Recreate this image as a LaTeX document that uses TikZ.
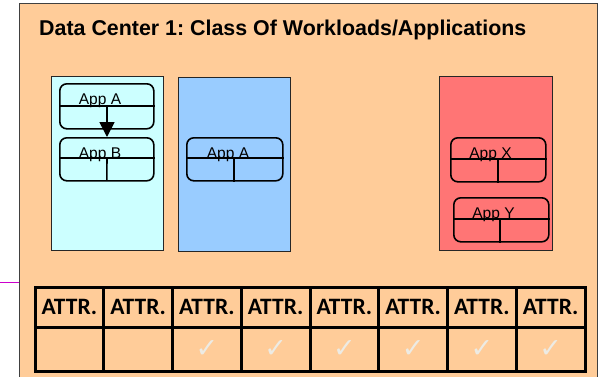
\documentclass[tikz,border=0pt]{standalone}
\usepackage{fontspec}
\setmainfont{Liberation Sans}
\newfontfamily\attrfont{Carlito}
\newfontfamily\symfont{DejaVu Sans}
\usetikzlibrary{arrows.meta}
\definecolor{peach}{HTML}{FFCC99}
\definecolor{cyanbox}{HTML}{CCFFFF}
\definecolor{bluebox}{HTML}{99CCFF}
\definecolor{redbox}{HTML}{FF7575}
\definecolor{framegray}{HTML}{404040}
\definecolor{tickgray}{HTML}{EDEBE4}
\definecolor{magentaline}{HTML}{CC00CC}
\frenchspacing
\tikzset{
  hostbox/.style={draw=black!85, line width=1.4pt},
  appbox/.style={draw=black, line width=1.6pt, rounded corners=7pt, minimum width=94pt, minimum height=44pt, inner sep=0pt},
  divider/.style={draw=black, line width=1.6pt},
  applabel/.style={font=\fontsize{15.5}{16}\selectfont, inner sep=0pt, anchor=base},
  cell/.style={draw=black, line width=3pt, minimum width=68.75pt, inner sep=0pt},
  hcell/.style={cell, minimum height=40pt, font=\attrfont\bfseries\fontsize{23.5}{25}\selectfont},
  tcell/.style={cell, minimum height=44pt, font=\symfont\fontsize{27}{28}\selectfont, text=tickgray},
}
\begin{document}
\begin{tikzpicture}[x=1pt, y=-1pt]
\useasboundingbox (0,0) rectangle (602,376);
\clip (0,0) rectangle (602,376);
\fill[white] (0,0) rectangle (602,376);
% outer frame
\node[draw=framegray, line width=1.3pt, fill=peach, minimum width=578pt, minimum height=390pt, inner sep=0pt, anchor=north west] (frame) at (19,3) {};
\coordinate (mstart) at (0,282);
\draw[magentaline, line width=1pt] (mstart) -- (mstart -| frame.west);
% title
\node[anchor=base west, inner sep=0pt, font=\bfseries\fontsize{21.4}{24}\selectfont] (title) at (39,35) {Data Center 1: Class Of Workloads/Applications};
% host boxes
\node[hostbox, fill=cyanbox, minimum width=112pt, minimum height=174pt, anchor=north west, inner sep=0pt] (host1) at (51,76) {};
\node[hostbox, fill=bluebox, minimum width=112pt, minimum height=174pt, anchor=north west, inner sep=0pt] (host2) at (178,77) {};
\node[hostbox, fill=redbox, minimum width=113pt, minimum height=174pt, anchor=north west, inner sep=0pt] (host3) at (439,76) {};
% app boxes
\node[appbox, minimum height=45pt, anchor=north west] (a1) at (59,83) {};
\node[appbox, minimum height=43pt, anchor=north west] (b1) at (59,137) {};
\node[appbox, minimum width=96pt, minimum height=43pt, anchor=north west] (a2) at (186,137) {};
\node[appbox, minimum width=95pt, minimum height=44pt, anchor=north west] (x3) at (450,137) {};
\node[appbox, minimum width=95pt, minimum height=44pt, anchor=north west] (y3) at (453,197) {};
% dividers
\draw[divider] (a1.west |- 0,106) -- (a1.east |- 0,106);
\coordinate (a1div) at (107,106);
\draw[divider] (b1.west |- 0,158) -- (b1.east |- 0,158);
\draw[divider] (107,158) -- (107,180 -| b1.south);
\draw[divider] (a2.west |- 0,158) -- (a2.east |- 0,158);
\draw[divider] (234,158) -- (234,137 |- a2.south);
\draw[divider] (x3.west |- 0,159) -- (x3.east |- 0,159);
\draw[divider] (498,159) -- (498,137 |- x3.south);
\draw[divider] (y3.west |- 0,219) -- (y3.east |- 0,219);
\draw[divider] (500,219) -- (500,197 |- y3.south);
% arrow
\draw[line width=1.6pt, -{Triangle[width=15pt,length=15pt]}] (a1div) -- (a1div |- b1.north);
% labels
\node[applabel] (la1) at (100,104.5) {App A};
\node[applabel] (lb1) at (100,158) {App B};
\node[applabel] (la2) at (228,158) {App A};
\node[applabel] (lx3) at (490.5,158) {App X};
\node[applabel] (ly3) at (493.5,218) {App Y};
% table
\foreach \i in {1,...,8}{
  \node[hcell] (h\i) at ({35+68.75*(\i-0.5)},307) {ATTR.};
  \node[tcell] (c\i) at ({35+68.75*(\i-0.5)},349) {\ifnum\i>2 ✓\fi};
}
\end{tikzpicture}
\end{document}
